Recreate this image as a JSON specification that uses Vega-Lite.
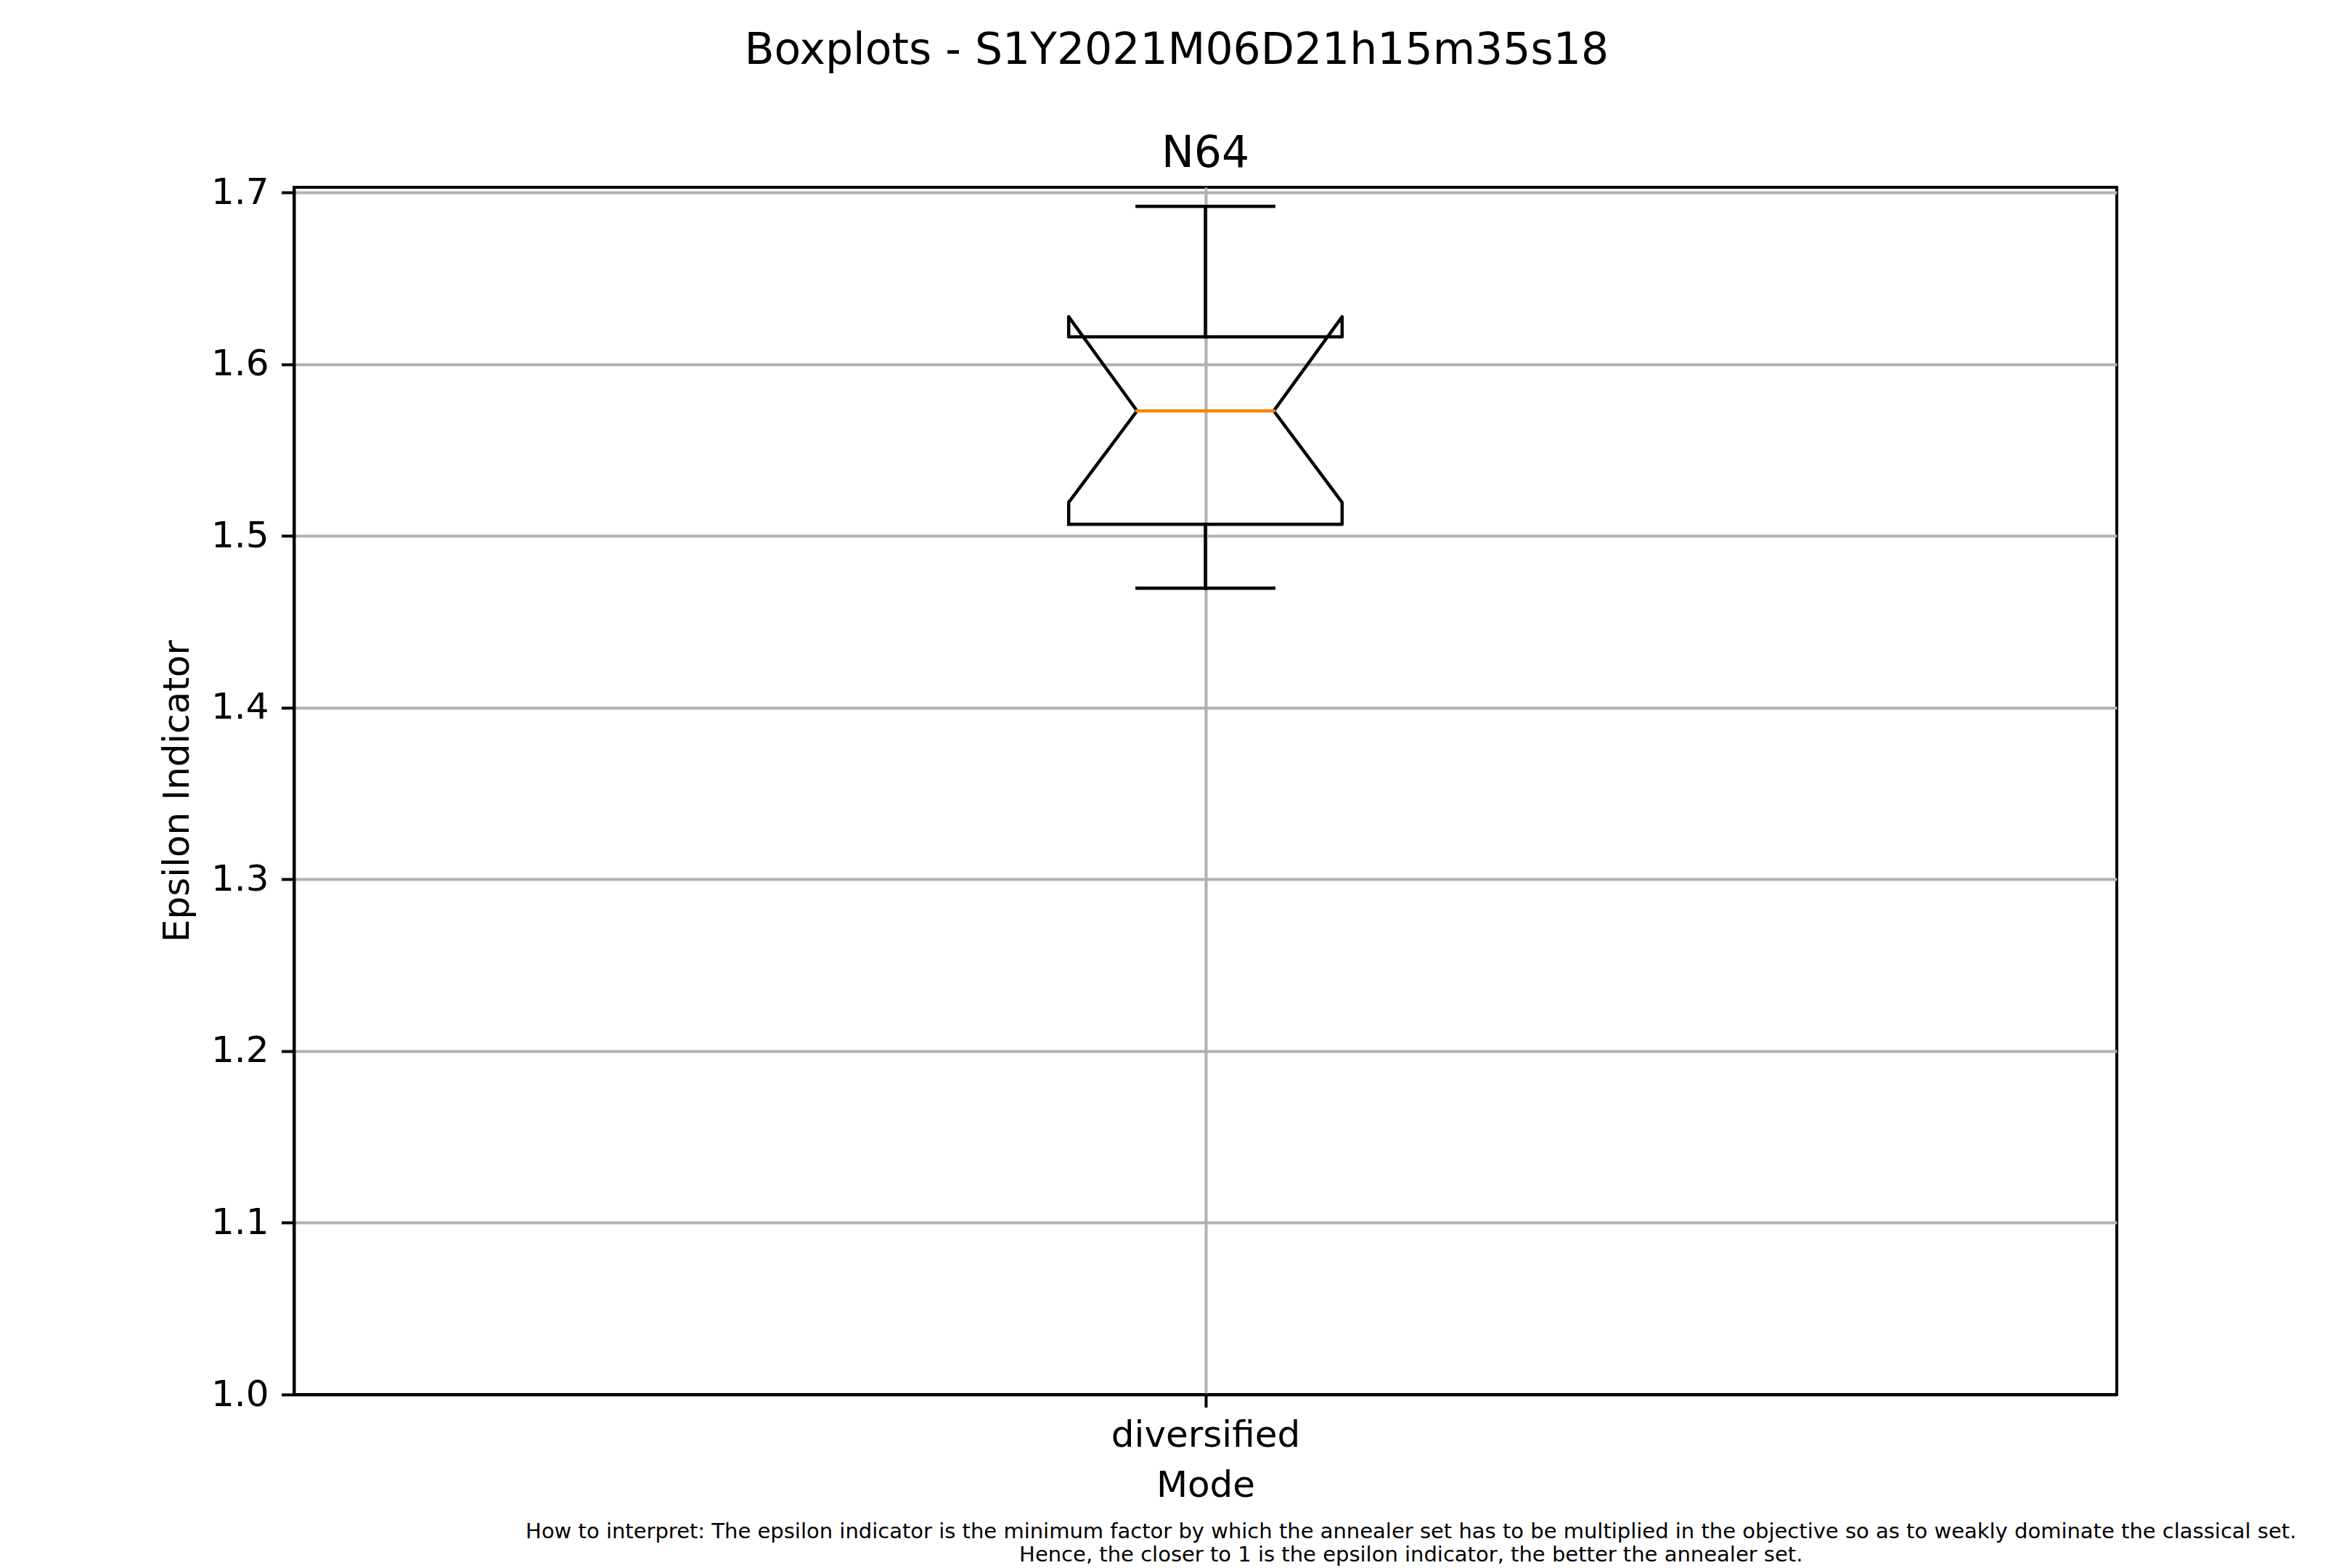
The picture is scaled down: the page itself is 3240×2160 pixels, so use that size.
{
  "$schema": "https://vega.github.io/schema/vega-lite/v6.json",
  "background": "white",
  "padding": {"left": 217, "top": 40, "right": 0, "bottom": 0},
  "config": {
    "font": "DejaVu Sans",
    "view": {"stroke": "black", "strokeWidth": 4},
    "concat": {"spacing": 0}
  },
  "datasets": {
    "box": [
      {"i": 0, "x": 0.925, "y": 1.5068},
      {"i": 1, "x": 1.075, "y": 1.5068},
      {"i": 2, "x": 1.075, "y": 1.5195},
      {"i": 3, "x": 1.0375, "y": 1.5728},
      {"i": 4, "x": 1.075, "y": 1.6276},
      {"i": 5, "x": 1.075, "y": 1.6159},
      {"i": 6, "x": 0.925, "y": 1.6159},
      {"i": 7, "x": 0.925, "y": 1.6276},
      {"i": 8, "x": 0.9625, "y": 1.5728},
      {"i": 9, "x": 0.925, "y": 1.5195},
      {"i": 10, "x": 0.925, "y": 1.5068}
    ],
    "segments": [
      {"part": "whisker", "x": 1, "x2": 1, "y": 1.5068, "y2": 1.4695},
      {"part": "whisker", "x": 1, "x2": 1, "y": 1.6159, "y2": 1.6919},
      {"part": "cap", "x": 0.9625, "x2": 1.0375, "y": 1.4695, "y2": 1.4695},
      {"part": "cap", "x": 0.9625, "x2": 1.0375, "y": 1.6919, "y2": 1.6919},
      {"part": "median", "x": 0.9625, "x2": 1.0375, "y": 1.5728, "y2": 1.5728}
    ]
  },
  "title": {
    "text": ["How to interpret: The epsilon indicator is the minimum factor by which the annealer set has to be multiplied in the objective so as to weakly dominate the classical set.", "Hence, the closer to 1 is the epsilon indicator, the better the annealer set."],
    "orient": "bottom",
    "anchor": "middle",
    "fontSize": 29,
    "fontWeight": "normal",
    "lineHeight": 32,
    "offset": 22,
    "dx": 376,
    "color": "black"
  },
  "vconcat": [
    {
      "title": {
        "text": "Boxplots - S1Y2021M06D21h15m35s18",
        "anchor": "middle",
        "fontSize": 60,
        "fontWeight": "normal",
        "offset": 79,
        "dx": 53,
        "color": "black"
      },
      "vconcat": [
        {
          "width": 2511,
          "height": 1663,
          "title": {
            "text": "N64",
            "anchor": "middle",
            "frame": "group",
            "fontSize": 60,
            "fontWeight": "normal",
            "offset": -3,
            "color": "black"
          },
          "layer": [
            {
              "data": {"name": "box"},
              "mark": {"type": "line", "color": "black", "strokeWidth": 4.5, "strokeJoin": "round", "strokeCap": "square", "clip": false},
              "encoding": {
                "x": {
                  "field": "x",
                  "type": "quantitative",
                  "scale": {"domain": [0.5, 1.5], "nice": false, "zero": false},
                  "axis": {
                    "values": [1],
                    "labelExpr": "'diversified'",
                    "labelLimit": 0,
                    "title": "Mode",
                    "grid": true,
                    "gridColor": "#b0b0b0",
                    "gridWidth": 4,
                    "domain": true,
                    "domainColor": "black",
                    "domainWidth": 4,
                    "tickColor": "black",
                    "tickSize": 17.5,
                    "tickWidth": 4,
                    "labelFontSize": 50,
                    "labelColor": "black",
                    "labelPadding": 14,
                    "titleFontSize": 50,
                    "titleFontWeight": "normal",
                    "titleColor": "black",
                    "titlePadding": 19
                  }
                },
                "y": {
                  "field": "y",
                  "type": "quantitative",
                  "scale": {"domain": [1.0, 1.703], "nice": false, "zero": false},
                  "axis": {
                    "values": [1.0, 1.1, 1.2, 1.3, 1.4, 1.5, 1.6, 1.7],
                    "format": ".1f",
                    "title": "Epsilon Indicator",
                    "grid": true,
                    "gridColor": "#b0b0b0",
                    "gridWidth": 4,
                    "gridOpacity": {"condition": {"test": "datum.value < 1.05", "value": 0}, "value": 1},
                    "domain": true,
                    "domainColor": "black",
                    "domainWidth": 4,
                    "tickColor": "black",
                    "tickSize": 17.5,
                    "tickWidth": 4,
                    "labelFontSize": 50,
                    "labelColor": "black",
                    "labelPadding": 17.5,
                    "titleFontSize": 50,
                    "titleFontWeight": "normal",
                    "titleColor": "black",
                    "titlePadding": 21
                  }
                },
                "order": {"field": "i", "type": "quantitative"}
              }
            },
            {
              "data": {"name": "segments"},
              "mark": {"type": "rule", "strokeWidth": 4.5, "strokeCap": "square"},
              "encoding": {
                "x": {"field": "x", "type": "quantitative"},
                "x2": {"field": "x2"},
                "y": {"field": "y", "type": "quantitative"},
                "y2": {"field": "y2"},
                "color": {
                  "field": "part",
                  "type": "nominal",
                  "scale": {"domain": ["whisker", "cap", "median"], "range": ["black", "black", "#ff7f0e"]},
                  "legend": null
                }
              }
            }
          ]
        }
      ]
    }
  ]
}
